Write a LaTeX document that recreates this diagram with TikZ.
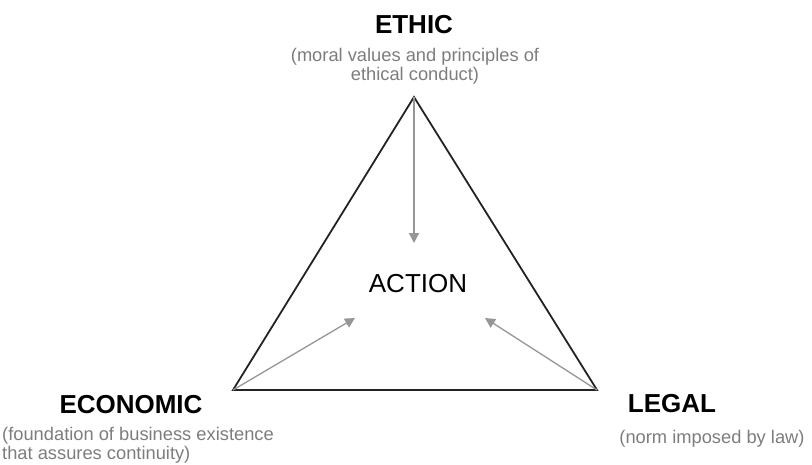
\documentclass[tikz,border=0pt]{standalone}
\usepackage{fontspec}
\setmainfont{Liberation Sans}
\usetikzlibrary{arrows.meta}
\definecolor{subgray}{RGB}{125,125,125}
\definecolor{arrgray}{RGB}{150,150,150}
\definecolor{edge}{RGB}{35,35,35}
\tikzset{
  title/.style={inner sep=0pt, font=\fontsize{26}{30}\selectfont\bfseries, anchor=base},
  sub/.style={inner sep=0pt, font=\fontsize{18.3}{19.5}\selectfont, text=subgray},
  tri/.style={draw=edge, line width=1.8pt, line join=miter},
  push/.style={draw=arrgray, line width=1.3pt, -{Triangle[length=10pt,width=10pt]}},
}
\begin{document}
\begin{tikzpicture}[x=1pt,y=-1pt]
\useasboundingbox (0,0) rectangle (812,464);
\coordinate (top) at (414,97);
\coordinate (bl) at (233,390);
\coordinate (br) at (597,390);
\draw[tri] (top) -- (bl) -- (br) -- cycle;
\node[inner sep=0pt, font=\fontsize{26}{30}\selectfont, anchor=base] (action) at (418,292) {ACTION};
\coordinate (tipT) at (414,243);
\coordinate (tipL) at (355,318);
\coordinate (tipR) at (485,318);
\draw[push] (top) -- (tipT);
\draw[push] (bl) -- (tipL);
\draw[push] (br) -- (tipR);
\node[title] (ethic) at (414,33) {ETHIC};
\node[sub, align=center, anchor=base] (ethicsub) at (415,80.5) {(moral values and principles of\\ethical conduct)};
\node[title] (econ) at (131,413) {ECONOMIC};
\node[sub, align=left, anchor=base west] (econsub) at (2,459.5) {(foundation of business existence\\that assures continuity)};
\node[title] (legal) at (672,412) {LEGAL};
\node[sub, anchor=base] (legalsub) at (712,443) {(norm imposed by law)};
\end{tikzpicture}
\end{document}
